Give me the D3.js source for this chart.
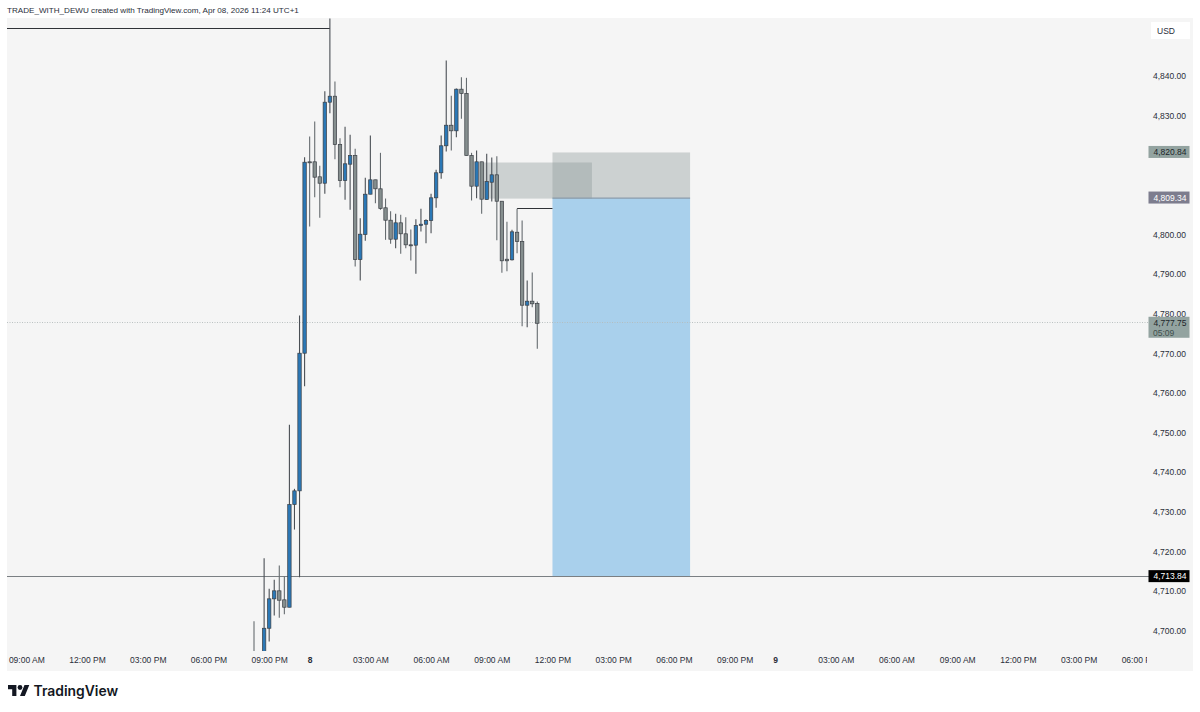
<!DOCTYPE html>
<html><head><meta charset="utf-8">
<script src="https://cdnjs.cloudflare.com/ajax/libs/d3/7.8.5/d3.min.js"></script>
<style>html,body{margin:0;padding:0;background:#fff}svg{display:block}
.ax text{font-family:"Liberation Sans",sans-serif;font-size:8.5px;fill:#2a2e39}
</style></head><body><svg id="c" width="1200" height="712"></svg>
<script>
const opens=[4694,4691,4693,4700.82,4708.24,4710.26,4707.99,4706.12,4732.03,4735.48,4770.20,4818.48,4818.48,4814.70,4813.08,4833.52,4835.03,4822.85,4813.76,4817.88,4820.07,4793.83,4800.14,4810.31,4813.94,4811.67,4806.88,4803.75,4798.96,4803.09,4800.32,4797.54,4797.45,4802.41,4802.74,4803.67,4809.40,4815.71,4822.52,4827.71,4826.30,4836.80,4835.71,4820.07,4812.33,4818.48,4808.97,4813.33,4815.20,4808.54,4793.91,4793.76,4800.72,4798.38,4782.31,4783.32,4782.73];
const highs=[4702.59,4694,4718.48,4710.76,4713.03,4716.64,4713.86,4752.13,4735.99,4779.71,4819.64,4824.86,4828.65,4817.47,4836.29,4854.63,4838.74,4824.43,4827.31,4825.29,4821.76,4804.25,4814.44,4825.12,4813.94,4820.75,4809.22,4806.02,4805.36,4805.11,4804.51,4801.40,4804.00,4806.62,4804.00,4810.41,4816.46,4825.12,4844.04,4835.13,4837.00,4839.82,4839.67,4820.75,4821.33,4818.48,4820.50,4819.57,4819.89,4808.54,4803.34,4801.33,4806.62,4803.67,4788.54,4790.56,4783.24];
const lows=[4688,4686,4692,4697.47,4704.03,4703.44,4704.35,4706.12,4725.72,4713.69,4761.87,4802.16,4809.55,4804.35,4810.41,4830.74,4819.14,4812.07,4808.90,4806.37,4792.07,4788.54,4798.55,4810.31,4808.04,4806.37,4798.80,4797.80,4796.69,4795.27,4796.69,4793.58,4790.23,4800.90,4797.95,4800.47,4806.88,4814.19,4821.08,4821.33,4824.69,4829.33,4820.07,4808.72,4809.30,4805.36,4808.97,4808.47,4798.70,4790.48,4790.88,4793.56,4795.42,4777.01,4776.76,4781.80,4771.31];
const closes=[4690,4692,4700.82,4708.24,4710.26,4707.89,4706.12,4732.03,4735.48,4770.20,4818.38,4818.30,4814.60,4813.08,4833.52,4835.03,4822.85,4813.76,4817.98,4820.07,4793.83,4800.22,4810.31,4813.94,4811.67,4806.70,4803.75,4798.96,4803.09,4800.32,4797.54,4797.45,4802.41,4802.74,4803.67,4809.40,4815.71,4822.52,4827.71,4826.30,4836.80,4835.71,4820.07,4812.33,4818.48,4809.05,4813.51,4815.20,4808.54,4793.51,4793.51,4800.82,4798.38,4782.31,4783.32,4782.66,4777.75];

const priceTicks=[4840,4830,4800,4790,4780,4770,4760,4750,4740,4730,4720,4710,4700];
const timeTickBars=[-45,-33,-21,-9,3,11,23,35,47,59,71,83,95,103,115,127,139,151,163,175];
const timeTickLabels=["09:00 AM","12:00 PM","03:00 PM","06:00 PM","09:00 PM","8","03:00 AM","06:00 AM","09:00 AM","12:00 PM","03:00 PM","06:00 PM","09:00 PM","9","03:00 AM","06:00 AM","09:00 AM","12:00 PM","03:00 PM","06:00 PM"];
const lastPrice=4777.75, shortEntry=4809.34, shortStop=4820.84, shortTarget=4713.84;
const zoneTop=4818.3, zoneBottom=4809.2, highLine=4852, sweepLine=4806.62;
const titleText="TRADE_WITH_DEWU created with TradingView.com, Apr 08, 2026 11:24 UTC+1";

const L=7,R=1147,T=18,B=651,PANE_R=1193,PANE_B=671;
const svg=d3.select("#c");
const x=d3.scaleLinear().domain([0,56]).range([254,537.3]);
const y=d3.scaleLinear().domain([4840,4700]).range([76.5,631.5]);

const defs=svg.append("defs");
defs.append("clipPath").attr("id","plot").append("rect").attr("x",L).attr("y",T).attr("width",R-L+3).attr("height",B-T);
defs.append("clipPath").attr("id","timeclip").append("rect").attr("x",L).attr("y",B).attr("width",R-L).attr("height",PANE_B-B);

svg.append("rect").attr("x",L).attr("y",T).attr("width",PANE_R-L).attr("height",PANE_B-T).attr("fill","#f5f5f5");

svg.append("text").attr("x",7).attr("y",13).attr("font-family","'Liberation Sans',sans-serif").attr("font-size",8.1).attr("fill","#2a2e39").text(titleText);

const plot=svg.append("g").attr("clip-path","url(#plot)");
function band(i0,i1,p0,p1,fill,op){plot.append("rect").attr("x",x(i0)).attr("width",x(i1)-x(i0)).attr("y",y(p0)).attr("height",y(p1)-y(p0)).attr("fill",fill).attr("fill-opacity",op);}
const LEFT=x.invert(L),I0=59,I1=86.2,Z0=45.2,Z1=66.8;
band(I0,I1,shortEntry,shortTarget,"#a9d0ec",1);
band(I0,I1,shortStop,shortEntry,"#8f9a9a",0.4);
band(Z0,Z1,zoneTop,zoneBottom,"#8f9a9a",0.4);
plot.append("line").attr("x1",x(I0)).attr("x2",x(I1)).attr("y1",y(shortEntry)).attr("y2",y(shortEntry)).attr("stroke","#8b9cab").attr("stroke-width",1.2);
function hline(i0,i1,p,col,w,dash){const l=plot.append("line").attr("x1",x(i0)).attr("x2",x(i1)).attr("y1",Math.round(y(p))-0.5).attr("y2",Math.round(y(p))-0.5).attr("stroke",col).attr("stroke-width",w);if(dash)l.attr("stroke-dasharray",dash);}
hline(LEFT,x.invert(R+3),lastPrice,"#b4bcbc",0.9,"1 1.5");
hline(LEFT,x.invert(R+3),shortTarget,"#7a7f83",1);
hline(LEFT,15,highLine,"#2f3237",1);
hline(52,I0,sweepLine,"#2f3237",1);
const idx=d3.range(opens.length);
plot.selectAll("line.w").data(idx).join("line").attr("class","w")
 .attr("x1",i=>x(i)).attr("x2",i=>x(i)).attr("y1",i=>y(highs[i])).attr("y2",i=>y(lows[i]))
 .attr("stroke",i=>closes[i]>=opens[i]?"#4a4f55":"#666c70").attr("stroke-width",1.1);
const bw=3.4;
plot.selectAll("rect.b").data(idx).join("rect").attr("class","b")
 .attr("x",i=>x(i)-bw/2).attr("width",bw)
 .attr("y",i=>y(Math.max(opens[i],closes[i])))
 .attr("height",i=>Math.max(1,Math.abs(y(opens[i])-y(closes[i]))))
 .attr("fill",i=>closes[i]>=opens[i]?"#2b78b6":"#858e8e")
 .attr("stroke","#3a3e44").attr("stroke-width",0.7);

const ya=svg.append("g").attr("class","ax").attr("transform","translate(1186,-0.7)")
 .call(d3.axisLeft(y).tickValues(priceTicks).tickSize(0).tickPadding(0).tickFormat(d3.format(",.2f")));
ya.select(".domain").remove();
const xa=svg.append("g").attr("clip-path","url(#timeclip)").attr("class","ax")
 .append("g").attr("transform",`translate(0,${B+1})`)
 .call(d3.axisBottom(x).tickValues(timeTickBars).tickSize(0).tickPadding(5).tickFormat((d,i)=>timeTickLabels[i]));
xa.select(".domain").remove();
xa.selectAll("text").style("font-weight",(d,i)=>timeTickLabels[i].length===1?"bold":null);

function tag(p,fill,col,h,label,sub){
 const cy=y(p)-0.5;
 const g=svg.append("g");
 g.append("rect").attr("x",1148.5).attr("y",cy-6).attr("width",41).attr("height",h).attr("fill",fill);
 g.append("text").attr("x",1186.5).attr("y",cy+3).attr("text-anchor","end").attr("font-family","'Liberation Sans',sans-serif").attr("font-size",8.5).attr("fill",col).text(label);
 if(sub)g.append("text").attr("x",1153).attr("y",cy+12.8).attr("font-family","'Liberation Sans',sans-serif").attr("font-size",8.5).attr("fill","#3f4f4d").text(sub);
}
const money=d3.format(",.2f");
tag(shortStop,"#93a3a0","#20262a",12,money(shortStop));
tag(shortEntry,"#7d7d8e","#fff",12,money(shortEntry));
tag(lastPrice,"#93a3a0","#20262a",21,money(lastPrice),"05:09");
tag(shortTarget,"#000","#fff",12,money(shortTarget));

svg.append("rect").attr("x",1151).attr("y",22).attr("width",39).attr("height",17).attr("fill","#fff");
svg.append("text").attr("x",1157).attr("y",34).attr("font-family","'Liberation Sans',sans-serif").attr("font-size",8.5).attr("fill","#2a2e39").text("USD");

const logo=svg.append("g").attr("transform","translate(8,682.7) scale(0.6)").attr("fill","#131722");
logo.append("path").attr("d","M14 22H7V11H0V4h14v18zM28 22h-8l7.5-18h8L28 22z");
logo.append("circle").attr("cx",20).attr("cy",8).attr("r",4);
svg.append("text").attr("x",33.5).attr("y",696).attr("font-family","Inter,'Liberation Sans',sans-serif").attr("font-size",13.9).attr("font-weight",600).attr("fill","#131722").text("TradingView");
</script></body></html>
